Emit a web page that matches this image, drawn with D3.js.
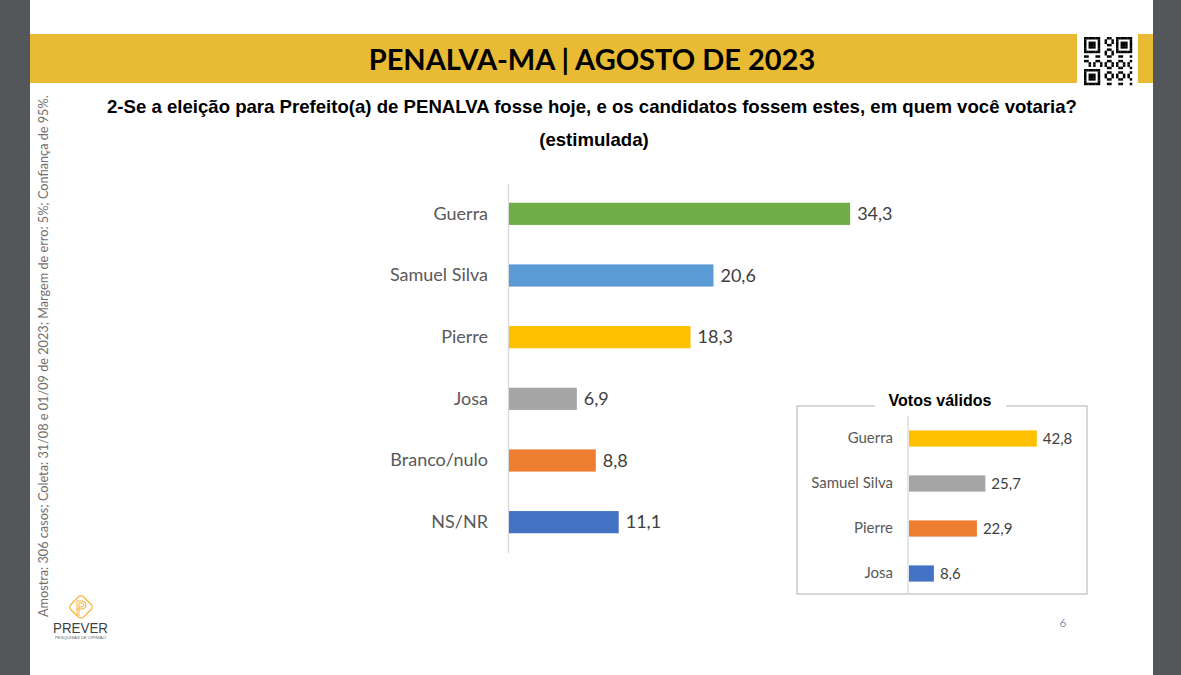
<!DOCTYPE html>
<html>
<head>
<meta charset="utf-8">
<script src="https://cdn.jsdelivr.net/npm/d3@7"></script>
<style>
    html, body { margin: 0; padding: 0; background: #525659; }
    #chart-container { width: 1181px; height: 675px; }
</style>
</head>
<body>
<div id="chart-container"></div>
<script>
// data
const candidates = ["Guerra", "Samuel Silva", "Pierre", "Josa", "Branco/nulo", "NS/NR"];
const votes = [34.3, 20.6, 18.3, 6.9, 8.8, 11.1];
const barColors = ["#70AD47", "#5B9BD5", "#FFC000", "#A5A5A5", "#ED7D31", "#4472C4"];

const validNames = ["Guerra", "Samuel Silva", "Pierre", "Josa"];
const validVotes = [42.8, 25.7, 22.9, 8.6];
const validColors = ["#FFC000", "#A5A5A5", "#ED7D31", "#4472C4"];

const titleText = "PENALVA-MA | AGOSTO DE 2023";
const questionText = "2-Se a eleição para Prefeito(a) de PENALVA fosse hoje, e os candidatos fossem estes, em quem você votaria?";
const noteText = "Amostra: 306 casos; Coleta: 31/08 e 01/09 de 2023; Margem de erro: 5%; Confiança de 95%.";

const fmt = v => String(v).replace(".", ",");
const calibri = "Lato, 'Open Sans', sans-serif";
const arial = "'Liberation Sans', Arial, sans-serif";

const width = 1181;
const height = 675;

const svg = d3
    .select("#chart-container")
    .append("svg")
    .attr("width", width)
    .attr("height", height);

// page
svg.append("rect").attr("x", 0).attr("y", 0).attr("width", width).attr("height", height).attr("fill", "#525659");
svg.append("rect").attr("x", 30).attr("y", 0).attr("width", 1123).attr("height", height).attr("fill", "#ffffff");

// header band
svg.append("rect").attr("x", 30).attr("y", 34).attr("width", 1123).attr("height", 49).attr("fill", "#E9BA34");
svg.append("rect").attr("x", 1077).attr("y", 34).attr("width", 61).attr("height", 49).attr("fill", "#ffffff");
svg.append("text")
    .attr("x", 592).attr("y", 70)
    .attr("text-anchor", "middle")
    .attr("font-family", calibri)
    .attr("font-weight", "bold")
    .attr("font-size", "29px")
    .attr("fill", "#000")
    .text(titleText);

// qr-like mark
const qr = svg.append("g").attr("transform", "translate(1084,37)");
const n = 21, cell = 48 / n;
for (let i = 0; i < n; i++) {
    for (let j = 0; j < n; j++) {
        const inFinder = (a, b) => a >= 0 && a < 7 && b >= 0 && b < 7;
        let on;
        const corners = [[0, 0], [0, 14], [14, 0]];
        let finder = false;
        corners.forEach(c => {
            const a = i - c[0], b = j - c[1];
            if (inFinder(a, b)) {
                finder = true;
                on = (a === 0 || a === 6 || b === 0 || b === 6) || (a >= 2 && a <= 4 && b >= 2 && b <= 4);
            }
        });
        if (!finder) {
            if ((i < 8 && (j < 8 || j > 12)) || (i > 12 && j < 8)) on = false;
            else on = ((i * 7 + j * 11 + i * j) % 5) < 2;
        }
        if (on) {
            qr.append("rect").attr("x", j * cell).attr("y", i * cell)
                .attr("width", cell + 0.2).attr("height", cell + 0.2).attr("fill", "#000");
        }
    }
}

// question
svg.append("text")
    .attr("x", 592).attr("y", 113)
    .attr("text-anchor", "middle")
    .attr("font-family", arial)
    .attr("font-weight", "bold")
    .attr("font-size", "18.6px")
    .attr("fill", "#000")
    .text(questionText);
svg.append("text")
    .attr("x", 594).attr("y", 146)
    .attr("text-anchor", "middle")
    .attr("font-family", arial)
    .attr("font-weight", "bold")
    .attr("font-size", "18.6px")
    .attr("fill", "#000")
    .text("(estimulada)");

// side note
svg.append("text")
    .attr("transform", "translate(48,617) rotate(-90)")
    .attr("font-family", calibri)
    .attr("font-size", "12.7px")
    .attr("fill", "#6f6f6f")
    .text(noteText);

// main chart
const y = d3.scaleBand().domain(candidates).range([183, 553]).paddingInner(0.64).paddingOuter(0.32);
const x = d3.scaleLinear().domain([0, 40]).range([508, 907]);

const mainAxis = svg.append("g")
    .attr("transform", `translate(${x(0)},0)`)
    .call(d3.axisLeft(y).tickSize(0).tickSizeOuter(0).tickPadding(20));
mainAxis.select(".domain").attr("stroke", "#d9d9d9").attr("stroke-width", 1.3);
mainAxis.selectAll("text")
    .attr("font-family", calibri)
    .attr("font-size", "18px")
    .attr("fill", "#595959");

svg.append("g")
    .selectAll("rect")
    .data(candidates)
    .enter()
    .append("rect")
    .attr("x", x(0) + 1)
    .attr("y", d => y(d))
    .attr("width", (d, i) => x(votes[i]) - x(0) - 1)
    .attr("height", y.bandwidth())
    .attr("fill", (d, i) => barColors[i]);

svg.append("g")
    .selectAll("text")
    .data(candidates)
    .enter()
    .append("text")
    .attr("x", (d, i) => x(votes[i]) + 7)
    .attr("y", d => y(d) + y.bandwidth() / 2)
    .attr("dy", "0.35em")
    .attr("font-family", calibri)
    .attr("font-size", "18px")
    .attr("fill", "#404040")
    .text((d, i) => fmt(votes[i]));

// inset chart: votos validos
svg.append("rect")
    .attr("x", 797).attr("y", 406).attr("width", 290).attr("height", 188)
    .attr("fill", "#fff").attr("stroke", "#bfbfbf").attr("stroke-width", 1.2);
svg.append("rect").attr("x", 875).attr("y", 396).attr("width", 131).attr("height", 16).attr("fill", "#fff");
svg.append("text")
    .attr("x", 940).attr("y", 406)
    .attr("text-anchor", "middle")
    .attr("font-family", arial)
    .attr("font-weight", "bold")
    .attr("font-size", "16px")
    .attr("fill", "#000")
    .text("Votos válidos");

const y2 = d3.scaleBand().domain(validNames).range([416, 596]).paddingInner(0.64).paddingOuter(0.32);
const x2 = d3.scaleLinear().domain([0, 50]).range([908, 1058.5]);

const insetAxis = svg.append("g")
    .attr("transform", `translate(${x2(0)},0)`)
    .call(d3.axisLeft(y2).tickSize(0).tickSizeOuter(0).tickPadding(15));
insetAxis.select(".domain").attr("d", "M0,416V594").attr("stroke", "#d9d9d9").attr("stroke-width", 1.3);
insetAxis.selectAll("text")
    .attr("font-family", calibri)
    .attr("font-size", "15px")
    .attr("fill", "#595959");

svg.append("g")
    .selectAll("rect")
    .data(validNames)
    .enter()
    .append("rect")
    .attr("x", x2(0) + 1)
    .attr("y", d => y2(d))
    .attr("width", (d, i) => x2(validVotes[i]) - x2(0) - 1)
    .attr("height", y2.bandwidth())
    .attr("fill", (d, i) => validColors[i]);

svg.append("g")
    .selectAll("text")
    .data(validNames)
    .enter()
    .append("text")
    .attr("x", (d, i) => x2(validVotes[i]) + 6)
    .attr("y", d => y2(d) + y2.bandwidth() / 2)
    .attr("dy", "0.35em")
    .attr("font-family", calibri)
    .attr("font-size", "15px")
    .attr("fill", "#404040")
    .text((d, i) => fmt(validVotes[i]));

// logo
const logo = svg.append("g").attr("transform", "translate(81,607)");
logo.append("rect")
    .attr("x", -9).attr("y", -9).attr("width", 18).attr("height", 18).attr("rx", 4)
    .attr("transform", "rotate(45)")
    .attr("fill", "none").attr("stroke", "#F5B335").attr("stroke-width", 1.3);
logo.append("path")
    .attr("d", "M-4,9V-6H1A4,4 0 0 1 1,2H-4 M-2,9V-4H1A2,2 0 0 1 1,0H-2")
    .attr("fill", "none").attr("stroke", "#F5B335").attr("stroke-width", 1);
svg.append("text")
    .attr("x", 53).attr("y", 633)
    .attr("textLength", 55)
    .attr("lengthAdjust", "spacingAndGlyphs")
    .attr("font-family", arial)
    .attr("font-size", "14px")
    .attr("fill", "#3f3f3f")
    .text("PREVER");
svg.append("text")
    .attr("x", 55).attr("y", 639)
    .attr("textLength", 51)
    .attr("lengthAdjust", "spacingAndGlyphs")
    .attr("font-family", arial)
    .attr("font-size", "4px")
    .attr("fill", "#666")
    .text("PESQUISAS DE OPINIÃO");

// page number
svg.append("text")
    .attr("x", 1063).attr("y", 627)
    .attr("text-anchor", "middle")
    .attr("font-family", calibri)
    .attr("font-size", "12px")
    .attr("fill", "#8497B0")
    .text("6");
</script>
</body>
</html>
